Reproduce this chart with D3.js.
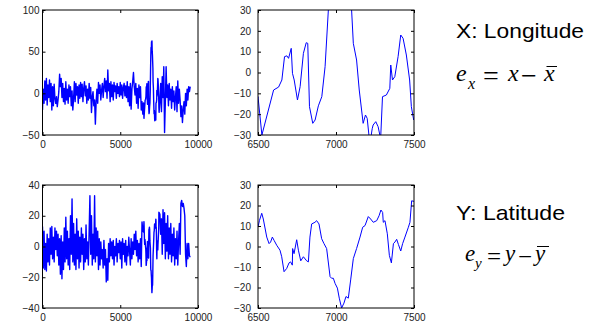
<!DOCTYPE html>
<html>
<head>
<meta charset="utf-8">
<script src="https://cdn.jsdelivr.net/npm/d3@7"></script>
<style>
  body { margin: 0; background: #fff; }
</style>
</head>
<body>
<script>
// sample spacing of the noisy parts
const step = 50;

// X: longitude error, 0..6450
const lonHead = [
  -20, 5, -12, 15, -8, 18, -14, 10, -5, 16,
  -10, 12, -20, 8, -15, 11, -6, -12, -4, -16,
  -8, 2, 23, 8, 18, -5, 12, -10, 6, -13,
  14, -8, 5, -12, 10, -4, 8, -15, 3, -20,
  -6, 14, -10, 12, -2, 8, -12, 10, -6, 13,
  -4, 11, -10, 6, 14, -3, 9, -12, 5, -8,
  12, -6, 7, -23, -4, 2, -15, -8, -37, -10,
  5, -12, 13, 0, 10, -8, 4, 12, -5, 8,
  18, 2, 15, -6, 28, 3, 12, -10, 14, -4,
  10, -8, 13, 2, 9, -6, 12, 0, 8, -4,
  13, -2, 10, -6, 7, 12, -3, 9, -5, 14,
  -10, 8, -15, 12, -19, 5, 14, 25, 8, -2,
  12, -12, 6, -18, 10, -5, 8, -20, -10, -25
];
// 6500..7500 (detail)
const lonZoomX = [6500, 6525, 6600, 6632, 6653, 6670, 6685, 6696, 6713, 6721, 6732, 6753, 6770, 6791, 6809, 6819,
  6830, 6851, 6866, 6887, 6909, 6930, 6951, 6965, 6980, 6995, 7010, 7025, 7040, 7055, 7070, 7085, 7100,
  7111, 7132, 7149, 7174, 7189, 7200, 7211, 7220, 7232, 7238, 7255, 7270, 7281, 7286, 7298, 7323, 7345,
  7351, 7362, 7377, 7398, 7415, 7430, 7451, 7472, 7483, 7498];
const lonZoomY = [-11.6, -30, -8.4, -7, -3.6, 7.6, 8, 6.8, 11.6, -0.4, -3.6, -13.2, -6.8, 9.2, 14.3, 14,
  -16.4, -24.4, -22.8, -16, -11.6, 2.8, 30, 45, 55, 50, 62, 58, 63, 50, 46, 38, 30,
  14, 6, -8.4, -24.4, -20.4, -22, -30, -33, -27, -25.2, -23.6, -26, -30, -32, -11.6, -10.8, -7.6,
  3.6, -3.6, -2, 7.6, 18, 16.4, 8.4, -3.6, -16.4, -22.8];
// 7550..9500
const lonTail = [
  -10, 12, -22, 20, -5, 32, -47, -10, 32, -5,
  10, -15, 12, -8, 5, -18, 8, -10, 3, -20,
  -5, 8, -22, 15, -12, 5, -8, -28, -15, -35,
  -20, -10, -25, 0, -15, 5, -8, 8, 2, 8
];

// Y: latitude error, 0..6450
const latHead = [
  13, -14, 10, -15, 2, -16, 8, -10, 5, -12,
  12, -5, 13, -8, 6, -10, 12, -2, 10, -6,
  8, -12, 5, -18, 7, -21, 3, -15, 12, -10,
  19, -8, 10, -12, 5, -15, 20, -5, 31, -10,
  15, -12, 8, -15, 18, -8, 10, -14, 6, -10,
  12, -5, 8, -15, 5, -10, 14, -8, 3, -12,
  10, 33, -5, 20, -12, 8, -8, 33, -10, 12,
  -6, 10, -15, 5, -12, 3, -8, -2, -14, 4,
  -12, -2, -23, -8, -22, 2, -10, 5, -6, 3,
  -8, 4, -12, 0, -6, 5, -10, 2, -4, 4,
  -8, 3, -14, 5, -5, 2, -10, 4, -12, 0,
  -6, 6, -3, -12, 5, -8, 3, -5, 8, -2,
  10, -6, 4, -10, 2, -8, 5, -13, 16, 10
];
const latZoomX = [6500, 6509, 6524, 6534, 6556, 6571, 6581, 6592, 6603, 6620, 6641, 6652, 6667, 6684, 6699,
  6709, 6720, 6722, 6731, 6748, 6759, 6774, 6791, 6812, 6823, 6833, 6844, 6865, 6876, 6891, 6908, 6923,
  6940, 6962, 6972, 6983, 6994, 7009, 7021, 7036, 7051, 7064, 7079, 7094, 7111, 7132, 7154, 7171, 7186,
  7207, 7222, 7239, 7261, 7276, 7288, 7299, 7303, 7314, 7329, 7342, 7355, 7368, 7378, 7389, 7400, 7415,
  7427, 7442, 7464, 7474, 7485, 7500];
const latZoomY = [9.4, 12.6, 16.2, 13.4, 4.6, 1.4, 2.2, 4.6, 3, 0.6, -1.8, -5, -12.3, -10.7, -8,
  -7.5, -9.1, -1, -3.5, 3.3, -1.8, -7, -5, -7, -7.5, 4.6, 11, 11.8, 12.6, 11, 3.8, 1.4,
  -1, -14.7, -15.5, -15.5, -18, -20.3, -25.2, -30, -27.6, -24.4, -25.2, -16.3, -5.9, -1, 4.6, 9.4, 10.2,
  14.6, 13.4, 11.8, 12.6, 15, 17.8, 16.6, 11.8, 12.6, 6.2, -4.3, -8, 1.4, 2.2, 3.5, 1, -2.2,
  1.4, 4.6, 9.4, 11.8, 22.3, 22];
const latTail = [
  21, 8, 18, -5, 24, 2, 22, -8, 15, -3,
  20, -8, 12, -5, 15, -10, 8, -6, 12, -12,
  5, -8, 10, -12, 3, 15, -5, 28, 30, 26,
  28, 25, 20, -5, -13, 2, -8, 2, -6, -7
];

const fullTicks = [0, 5000, 10000];
const zoomTicks = [6500, 7000, 7500];
const lonTicks = [-50, 0, 50, 100];
const latTicks = [-40, -20, 0, 20, 40];
const errTicks = [-30, -20, -10, 0, 10, 20, 30];

const build = (head, zx, zy, tail) =>
  head.map((v, i) => [i * step, v])
    .concat(zx.map((x, i) => [x, zy[i]]))
    .concat(tail.map((v, i) => [7550 + i * step, v]));

const lonSeries = build(lonHead, lonZoomX, lonZoomY, lonTail);
const latSeries = build(latHead, latZoomX, latZoomY, latTail);

const svg = d3.select("body").append("svg")
  .attr("width", 609).attr("height", 326);

const panels = [
  { id: "a", data: lonSeries, xd: [0, 10000], yd: [-50, 100], xt: fullTicks, yt: lonTicks,
    l: 42.5, r: 198, t: 10, b: 135, pad: 3, sw: 1.4 },
  { id: "b", data: lonSeries, xd: [6500, 7500], yd: [-30, 30], xt: zoomTicks, yt: errTicks,
    l: 258, r: 414, t: 10, b: 135, pad: 7, sw: 1 },
  { id: "c", data: latSeries, xd: [0, 10000], yd: [-40, 40], xt: fullTicks, yt: latTicks,
    l: 42.5, r: 198, t: 185, b: 308, pad: 3, sw: 1.4 },
  { id: "d", data: latSeries, xd: [6500, 7500], yd: [-30, 30], xt: zoomTicks, yt: errTicks,
    l: 258, r: 414, t: 185, b: 308, pad: 7, sw: 1 }
];

panels.forEach(p => {
  const x = d3.scaleLinear().domain(p.xd).range([p.l, p.r]);
  const y = d3.scaleLinear().domain(p.yd).range([p.b, p.t]);
  const g = svg.append("g");

  g.append("clipPath").attr("id", "clip-" + p.id)
    .append("rect").attr("x", p.l).attr("y", p.t)
    .attr("width", p.r - p.l).attr("height", p.b - p.t);

  g.append("path")
    .datum(p.data)
    .attr("clip-path", "url(#clip-" + p.id + ")")
    .attr("fill", "none")
    .attr("stroke", "#0000ff")
    .attr("stroke-width", p.sw)
    .attr("stroke-linejoin", "round")
    .attr("d", d3.line().x(d => x(d[0])).y(d => y(d[1])));

  // ticks point inwards on all four sides
  const axes = [
    [d3.axisBottom(x), p.b, 0, true],
    [d3.axisTop(x), p.t, 0, false],
    [d3.axisLeft(y), 0, p.l, true],
    [d3.axisRight(y), 0, p.r, false]
  ];
  axes.forEach(([ax, ty, tx, labels], k) => {
    ax.tickValues(k < 2 ? p.xt : p.yt).tickSizeInner(-3).tickSizeOuter(0)
      .tickPadding(k < 2 ? 6 : p.pad)
      .tickFormat(labels ? d3.format("d") : "");
    const a = g.append("g").attr("transform", `translate(${tx},${ty})`).call(ax);
    a.select(".domain").remove();
    a.selectAll("text")
      .attr("font-family", "Liberation Sans, Arial, sans-serif")
      .attr("font-size", 10)
      .attr("fill", "#222");
  });

  g.append("rect")
    .attr("x", p.l).attr("y", p.t)
    .attr("width", p.r - p.l).attr("height", p.b - p.t)
    .attr("fill", "none").attr("stroke", "#000");
});

// labels on the right
const sans = "Liberation Sans, Arial, sans-serif";
const serif = "Liberation Serif, Times New Roman, serif";

svg.append("text").attr("x", 456).attr("y", 38)
  .attr("font-family", sans).attr("font-size", 21)
  .attr("textLength", 128).attr("lengthAdjust", "spacingAndGlyphs")
  .text("X: Longitude");
svg.append("text").attr("x", 456).attr("y", 220)
  .attr("font-family", sans).attr("font-size", 21)
  .attr("textLength", 109).attr("lengthAdjust", "spacingAndGlyphs")
  .text("Y: Latitude");

const eq = (parts, bar) => {
  parts.forEach(([txt, px, py, size, italic]) => {
    svg.append("text").attr("x", px).attr("y", py)
      .attr("font-family", serif).attr("font-size", size)
      .attr("font-style", italic ? "italic" : "normal")
      .text(txt);
  });
  svg.append("line").attr("x1", bar[0]).attr("x2", bar[1])
    .attr("y1", bar[2]).attr("y2", bar[2])
    .attr("stroke", "#000").attr("stroke-width", 1);
};

eq([
  ["e", 456, 81, 24, true],
  ["x", 468, 89, 16, true],
  ["=", 483, 85, 28, false],
  ["x", 508, 81, 24, true],
  ["\u2212", 521, 85, 28, false],
  ["x", 544, 81, 24, true]
], [546.5, 557, 66.5]);

eq([
  ["e", 465, 261, 23, true],
  ["y", 475, 268, 15, true],
  ["=", 487, 265, 25, false],
  ["y", 505, 261, 23, true],
  ["\u2212", 518, 265, 25, false],
  ["y", 535, 261, 23, true]
], [537, 549, 246.5]);
</script>
</body>
</html>
